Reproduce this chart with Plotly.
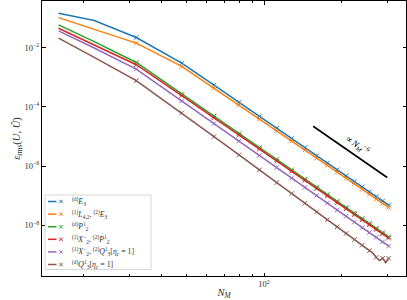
import plotly.graph_objects as go

# ---------------- data ----------------
N_M = [16, 22, 32, 48, 64, 80, 96, 112, 128, 144, 160, 176, 192, 208, 224, 240, 256, 272, 288, 304]
N_M_brown = [16, 22, 32, 48, 64, 80, 96, 112, 128, 144, 160, 176, 192, 208, 224, 240, 256,
             264, 272, 280, 288, 296, 304]

err_E3 = [1.43e-1, 8.20e-2, 2.17e-2, 2.99e-3, 5.35e-4, 1.41e-4, 4.73e-5, 1.88e-5, 8.49e-6, 4.19e-6,
          2.23e-6, 1.26e-6, 7.50e-7, 4.65e-7, 2.99e-7, 1.98e-7, 1.35e-7, 9.35e-8, 6.64e-8, 4.81e-8]
err_L42_E3 = [1.02e-1, 4.19e-2, 1.41e-2, 2.30e-3, 4.25e-4, 1.15e-4, 3.89e-5, 1.56e-5, 7.03e-6, 3.47e-6,
              1.85e-6, 1.05e-6, 6.22e-7, 3.85e-7, 2.48e-7, 1.64e-7, 1.12e-7, 7.76e-8, 5.51e-8, 4.00e-8]
err_P21 = [5.79e-2, 1.59e-2, 3.13e-3, 2.74e-4, 4.84e-5, 1.26e-5, 4.22e-6, 1.67e-6, 7.48e-7, 3.68e-7,
           1.95e-7, 1.10e-7, 6.52e-8, 4.03e-8, 2.58e-8, 1.70e-8, 1.16e-8, 8.02e-9, 5.69e-9, 4.11e-9]
err_X2_P21 = [4.49e-2, 1.25e-2, 2.63e-3, 2.38e-4, 4.22e-5, 1.10e-5, 3.72e-6, 1.47e-6, 6.61e-7, 3.26e-7,
              1.73e-7, 9.77e-8, 5.79e-8, 3.59e-8, 2.31e-8, 1.52e-8, 1.04e-8, 7.21e-9, 5.13e-9, 3.72e-9]
err_X2_Q31 = [3.64e-2, 9.62e-3, 1.87e-3, 1.57e-4, 2.72e-5, 6.95e-6, 2.28e-6, 8.89e-7, 3.94e-7, 1.91e-7,
              1.01e-7, 5.62e-8, 3.30e-8, 2.02e-8, 1.29e-8, 8.45e-9, 5.70e-9, 3.94e-9, 2.77e-9, 2.00e-9]
err_Q31 = [2.07e-2, 4.68e-3, 7.59e-4, 6.24e-5, 9.91e-6, 2.38e-6, 7.43e-7, 2.77e-7, 1.18e-7, 5.57e-8,
           2.84e-8, 1.55e-8, 8.87e-9, 5.31e-9, 3.31e-9, 2.13e-9, 1.41e-9,
           1.15e-9, 8.32e-10, 6.46e-10, 7.76e-10, 5.50e-10, 7.76e-10]

ref_N = [155, 300]
ref_err = [2.2e-5, 4.1e-7]

labels = [
    "<sup>(d)</sup><i>E</i><sub>3</sub>",
    "<sup>(1)</sup><i>L</i><sub>4,2</sub>, <sup>(2)</sup><i>E</i><sub>3</sub>",
    "<sup>(d)</sup><i>P</i><sup>1</sup><sub>2</sub>",
    "<sup>(1)</sup><i>X</i><sup>−</sup><sub>2</sub>, <sup>(2)</sup><i>P</i><sup>1</sup><sub>2</sub>",
    "<sup>(1)</sup><i>X</i><sup>−</sup><sub>2</sub>, <sup>(2)</sup><i>Q</i><sup>1</sup><sub>3</sub>[<i>η<sub>c</sub></i> = 1]",
    "<sup>(d)</sup><i>Q</i><sup>1</sup><sub>3</sub>[<i>η<sub>c</sub></i> = 1]",
]
colors = ["#1f77b4", "#ff7f0e", "#2ca02c", "#d62728", "#9467bd", "#8c564b"]

series = [(N_M, err_E3), (N_M, err_L42_E3), (N_M, err_P21), (N_M, err_X2_P21),
          (N_M, err_X2_Q31), (N_M_brown, err_Q31)]

FONT = "Liberation Serif"
W, H = 407, 300
ML, MR, MT, MB = 42, 1, 1, 24
PW, PH = W - ML - MR, H - MT - MB

def px(xp):
    return (xp - ML) / PW

def py(yp):
    return (H - MB - yp) / PH

fig = go.Figure()
for (xs, ys), lab, col in zip(series, labels, colors):
    marked = [n >= 32 and n % 16 == 0 for n in xs]
    fig.add_trace(go.Scatter(
        x=xs, y=ys, name=lab, mode="lines+markers", showlegend=False,
        line=dict(color=col, width=1.5),
        marker=dict(symbol="x-thin", size=4.5,
                    opacity=[1 if m else 0 for m in marked],
                    line=dict(color=col, width=1), color=col),
    ))

fig.add_trace(go.Scatter(x=ref_N, y=ref_err, mode="lines", showlegend=False,
                         line=dict(color="black", width=1.6)))

fig.add_annotation(x=2.36, y=-5.28, xref="x", yref="y",
                   text="∝ <i>N<sub>M</sub></i><sup>−6</sup>", showarrow=False,
                   textangle=34.7, font=dict(family=FONT, size=9, color="black"))

# ---- legend drawn as a matplotlib-style box: line sample, x marker, label ----
box_l, box_r, box_t, box_b = 45, 151, 195, 269.5
fig.add_shape(type="rect", xref="paper", yref="paper",
              x0=px(box_l), x1=px(box_r), y0=py(box_b), y1=py(box_t),
              fillcolor="rgba(255,255,255,0.85)", line=dict(color="#cccccc", width=0.8),
              layer="above")
row0, row_gap = 201.5, 12.6
for i, (lab, col) in enumerate(zip(labels, colors)):
    yc = row0 + i * row_gap
    fig.add_shape(type="line", xref="paper", yref="paper",
                  x0=px(48), x1=px(56.5), y0=py(yc), y1=py(yc),
                  line=dict(color=col, width=1.5), layer="above")
    s = 1.7
    for dy in (-s, s):
        fig.add_shape(type="line", xref="paper", yref="paper",
                      x0=px(61 - s), x1=px(61 + s), y0=py(yc - dy), y1=py(yc + dy),
                      line=dict(color=col, width=1), layer="above")
    fig.add_annotation(x=px(69.5), y=py(yc), xref="paper", yref="paper",
                       xanchor="left", yanchor="middle", showarrow=False,
                       text=lab, font=dict(family=FONT, size=7.8, color="#333"))

fig.update_xaxes(
    type="log", range=[1.140, 2.550], automargin=False,
    tickvals=[100], ticktext=["10<sup>2</sup>"],
    ticks="inside", ticklen=3.5, tickwidth=0.8, tickcolor="black",
    minor=dict(tickvals=[20, 30, 40, 50, 60, 70, 80, 90, 200, 300], ticks="inside",
               ticklen=2, tickwidth=0.6, tickcolor="black"),
    showline=True, linecolor="black", linewidth=1, mirror="ticks",
    showgrid=False, zeroline=False,
    tickfont=dict(family=FONT, size=8.5, color="#333"),
    title=dict(text="<i>N<sub>M</sub></i>", font=dict(family=FONT, size=10.5, color="#333"), standoff=2),
)
fig.update_yaxes(
    type="log", range=[-9.71, -0.43], automargin=False,
    tickvals=[1e-2, 1e-4, 1e-6, 1e-8],
    ticktext=["10<sup>−2</sup>", "10<sup>−4</sup>", "10<sup>−6</sup>", "10<sup>−8</sup>"],
    ticks="inside", ticklen=3.5, tickwidth=0.8, tickcolor="black",
    showline=True, linecolor="black", linewidth=1, mirror="ticks",
    showgrid=False, zeroline=False,
    tickfont=dict(family=FONT, size=8.5, color="#333"),
    title=dict(text="<i>ε</i><sub>rms</sub>(<i>U</i>, <i>Û</i>)",
               font=dict(family=FONT, size=10.5, color="#333"), standoff=1),
)

fig.update_layout(
    width=W, height=H,
    margin=dict(l=ML, r=MR, t=MT, b=MB, autoexpand=False),
    paper_bgcolor="white", plot_bgcolor="white",
    showlegend=False,
)

fig.write_html("out.html", config={"displayModeBar": False},
               post_script="document.body.style.margin='0';document.body.style.overflow='hidden';")
